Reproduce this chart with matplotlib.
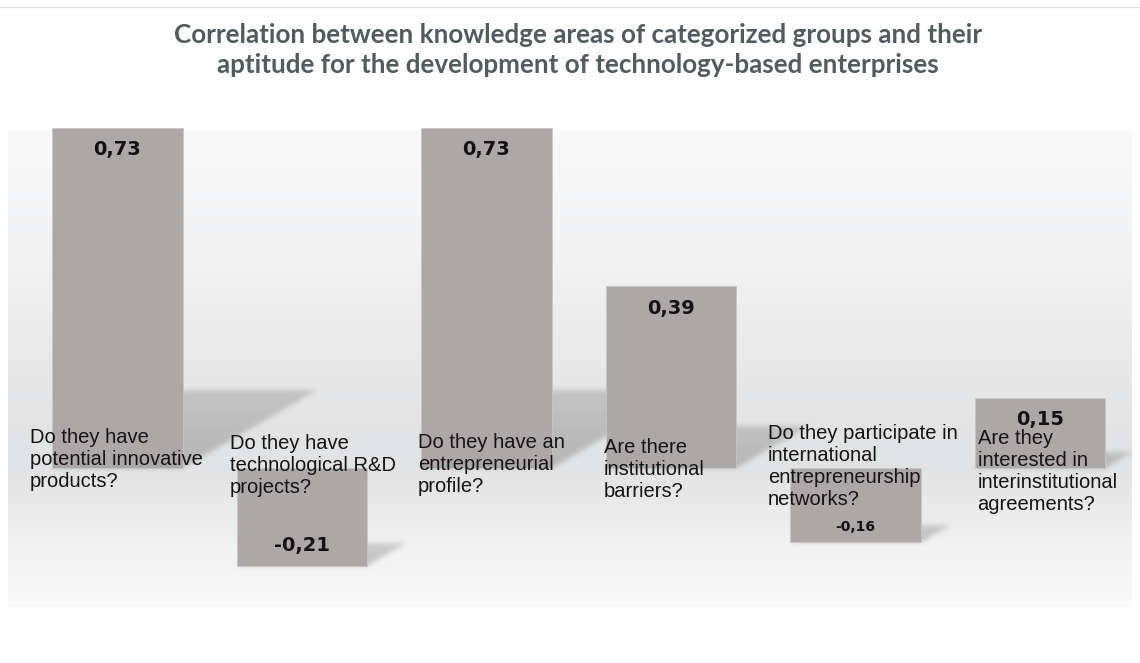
import numpy as np
import matplotlib
matplotlib.use("Agg")
import matplotlib.pyplot as plt
from matplotlib.path import Path

# ---------------- data ----------------
categories = [
    "Do they have\npotential innovative\nproducts?",
    "Do they have\ntechnological R&D\nprojects?",
    "Do they have an\nentrepreneurial\nprofile?",
    "Are there\ninstitutional\nbarriers?",
    "Do they participate in\ninternational\nentrepreneurship\nnetworks?",
    "Are they\ninterested in\ninterinstitutional\nagreements?",
]
values = [0.73, -0.21, 0.73, 0.39, -0.16, 0.15]
value_labels = ["0,73", "-0,21", "0,73", "0,39", "-0,16", "0,15"]
title_lines = [
    "Correlation between knowledge areas of categorized groups and their",
    "aptitude for the development of technology-based enterprises",
]

# ---------------- layout ----------------
W, H = 1140, 663
STEP = 184.5      # px per category
X0 = 117.5        # px centre of first bar
Y0 = 467.8        # px of zero line (from top)
UNIT = 465.5      # px per value unit
BAR_W = 0.71

label_dx_px = [-22, -7, -3, -2, -22, 3]
label_top_px = [432, 438, 437, 442, 428, 433]
value_fs = [14, 14, 14, 14, 10, 14]

fig = plt.figure(figsize=(W / 100, H / 100), dpi=100)
ax = fig.add_axes([0, 0, 1, 1])


def px2x(px):
    return (px - X0) / STEP


def py2y(py):
    return (Y0 - py) / UNIT


XL = (px2x(0), px2x(W))
YL = (py2y(H), py2y(0))

# background panel gradient
prof_py = [130, 250, 385, 440, 470, 500, 540, 580, 607]
prof_v = [250, 243, 231, 227, 227, 233, 241, 247, 250]
rows = np.arange(130, 608)
g = np.interp(rows, prof_py, prof_v) / 255.0
img = np.stack([g - 0.002, g, g + 0.004], axis=-1)[:, None, :]
img = np.clip(np.repeat(img, 2, axis=1), 0, 1)
ax.imshow(img, extent=[px2x(8), px2x(1132), py2y(607), py2y(130)],
          aspect="auto", interpolation="bilinear", zorder=0)

# thin top line
ax.plot([px2x(0), px2x(W)], [py2y(7), py2y(7)], color="#dedede", lw=1.0, zorder=1)

x = np.arange(len(values))

# soft shadows (sheared projection of each bar, rasterised and blurred)
pxs = np.arange(W) + 0.5
pys = np.arange(H) + 0.5
PX, PY = np.meshgrid(pxs, pys)
pts = np.column_stack([px2x(PX.ravel()), py2y(PY.ravel())])
mask = np.zeros(W * H)
for i, v in enumerate(values):
    h = abs(v)
    base = min(0.0, v)
    x0, x1 = i - BAR_W / 2, i + BAR_W / 2
    dx = 1.0 * h
    dy = 0.23 * h
    path = Path([(x0, base), (x1, base), (x1 + dx, base + dy), (x0 + dx, base + dy), (x0, base)])
    inside = path.contains_points(pts)
    # slightly lighter toward the far edge
    t = np.clip((pts[:, 1] - base) / dy, 0, 1)
    mask = np.maximum(mask, inside * (1.0 - 0.25 * t))
mask = mask.reshape(H, W)


def box_blur(a, r):
    k = 2 * r + 1
    p = np.pad(a, ((r, r), (0, 0)), mode="edge")
    c = np.cumsum(p, axis=0)
    c = np.vstack([np.zeros((1, a.shape[1])), c])
    a = (c[k:] - c[:-k]) / k
    p = np.pad(a, ((0, 0), (r, r)), mode="edge")
    c = np.cumsum(p, axis=1)
    c = np.hstack([np.zeros((a.shape[0], 1)), c])
    return (c[:, k:] - c[:, :-k]) / k


for _ in range(3):
    mask = box_blur(mask, 2)
shadow = np.zeros((H, W, 4))
shadow[..., :3] = 0.40
shadow[..., 3] = 0.36 * mask
ax.imshow(shadow, extent=[XL[0], XL[1], YL[0], YL[1]], aspect="auto",
          interpolation="nearest", zorder=2)

# bars
ax.bar(x, values, width=BAR_W, color="#aca8a8", edgecolor="#c9c6c6",
       linewidth=0.6, zorder=3)

# value labels
for i, (v, lab) in enumerate(zip(values, value_labels)):
    if v > 0:
        yy = v - 22 / UNIT
    else:
        yy = v + (20 if value_fs[i] > 12 else 15) / UNIT
    ax.text(i, yy, lab, ha="center", va="center", fontsize=value_fs[i],
            fontweight="bold", family="DejaVu Sans", color="#111111", zorder=5)

# category labels
for i, cat in enumerate(categories):
    xl = i - BAR_W / 2 + label_dx_px[i] / STEP
    yt = py2y(label_top_px[i] - 4)
    ax.text(xl, yt, cat, ha="left", va="top", fontsize=14.5,
            family="Liberation Sans", color="#141414", linespacing=1.2, zorder=6)

ax.set_xlim(*XL)
ax.set_ylim(*YL)
ax.axis("off")

# title (fit line width)
title_color = "#505c61"
t1 = fig.text(578 / W, 1 - 35 / H, title_lines[0], ha="center", va="center",
              fontsize=15, fontweight="bold", family="Lato", color=title_color)
fig.canvas.draw()
wpx = t1.get_window_extent().width
fs = 15 * 810 / wpx
t1.set_fontsize(fs)
fig.text(578 / W, 1 - 65 / H, title_lines[1], ha="center", va="center",
         fontsize=fs, fontweight="bold", family="Lato", color=title_color)

fig.savefig("out.png", dpi=100, facecolor="white")
